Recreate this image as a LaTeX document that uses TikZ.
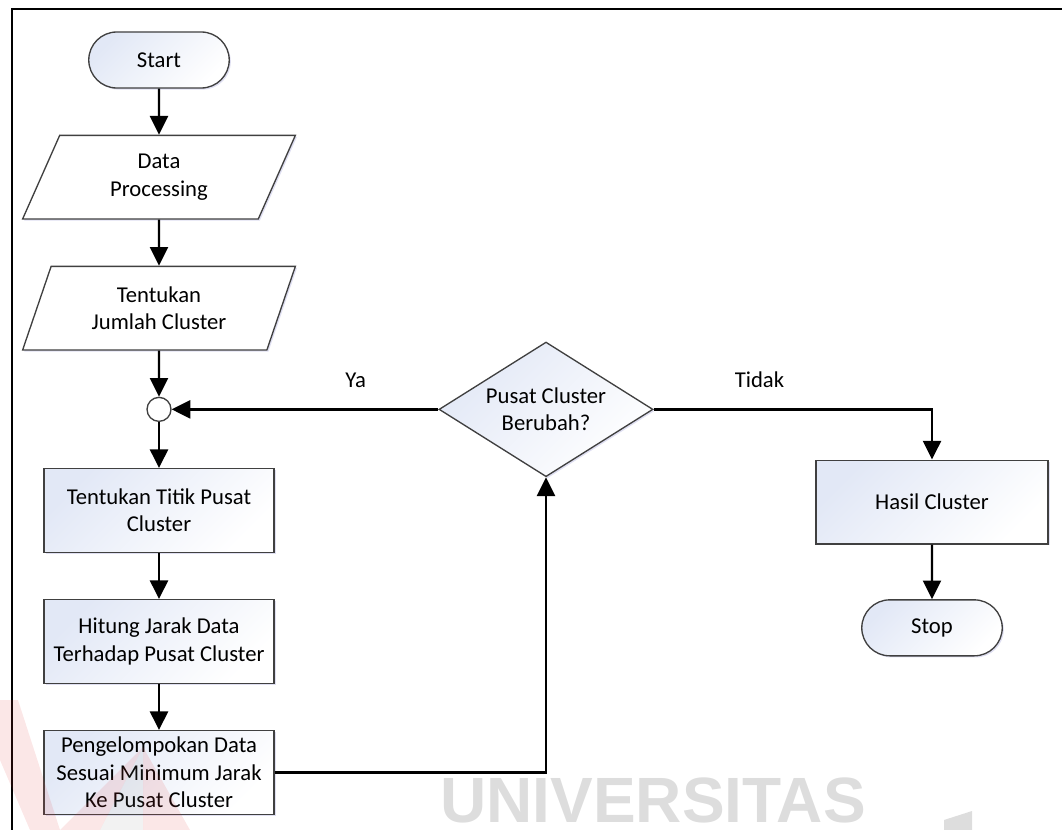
\documentclass[tikz,border=0pt]{standalone}
\usepackage{fontspec}
\setmainfont{Carlito}
\newfontfamily\wmfont{Liberation Sans}
\usetikzlibrary{arrows.meta, positioning, shapes.geometric, shapes.misc, shadows}
\definecolor{boxblue}{RGB}{226,232,246}
\definecolor{linegray}{RGB}{64,64,64}
\definecolor{wmgray}{RGB}{221,221,221}
\definecolor{wmred}{RGB}{226,60,60}
\tikzset{
  shadebox/.style={top color=boxblue, bottom color=white, shading angle=45,
    drop shadow={shadow xshift=1.2pt, shadow yshift=-1.2pt, opacity=0.18, fill=blue!40!gray}},
  term/.style={draw=linegray, line width=1pt, rounded rectangle, shadebox,
    minimum width=112pt, minimum height=42pt},
  io/.style={draw=linegray, line width=1pt, trapezium, trapezium left angle=70,
    trapezium right angle=110, trapezium stretches=true, fill=white, align=center,
    minimum width=204.75pt, minimum height=62.75pt,
    drop shadow={shadow xshift=1.2pt, shadow yshift=-1.2pt, opacity=0.18, fill=blue!40!gray}},
  proc/.style={draw=linegray, line width=1pt, rectangle, shadebox, align=center,
    minimum width=172.5pt, minimum height=62.75pt},
  decide/.style={draw=linegray, line width=1pt, diamond, aspect=1.58, shadebox, align=center,
    minimum width=160.5pt, minimum height=101pt, inner sep=0pt},
  junc/.style={draw=linegray, line width=1pt, circle, fill=white, minimum size=18pt, inner sep=0pt},
  arr/.style={-{Triangle[length=14pt, width=13.5pt]}, line width=1.8pt},
}

\begin{document}
\begin{tikzpicture}[x=0.75pt, y=-0.75pt, node distance=34.5pt,
    font=\fontsize{17}{20.5}\selectfont]
    \useasboundingbox (0,0) rectangle (1062,830);
    \draw[line width=1.5pt] (12,830) -- (12,9) -- (1062,9);

    % left column
    \node[term] (start) at (159,60) {Start};
    \node[io, below=of start] (dataproc) {Data\\Processing};
    \node[io, below=of dataproc] (jumlah) {Tentukan\\Jumlah Cluster};
    \node[junc, below=of jumlah] (join) {};
    \node[proc, below=of join] (titik) {Tentukan Titik Pusat\\Cluster};
    \node[proc, below=of titik] (jarak) {Hitung Jarak Data\\Terhadap Pusat Cluster};
    \node[proc, below=of jarak] (kelompok) {Pengelompokan Data\\Sesuai Minimum Jarak\\Ke Pusat Cluster};

    % decision and exit
    \node[decide, right=200pt of join] (ubah) {Pusat Cluster\\Berubah?};
    \node[proc, minimum width=174pt] (hasil) at (932,502) {Hasil Cluster};
    \node[term, below=41pt of hasil] (stop) {Stop};

    \draw[arr] (start) -- (dataproc);
    \draw[arr] (dataproc) -- (jumlah);
    \draw[arr] (jumlah) -- (join);
    \draw[arr] (join) -- (titik);
    \draw[arr] (titik) -- (jarak);
    \draw[arr] (jarak) -- (kelompok);
    \draw[arr] (kelompok.east) -| (ubah.south);
    \draw[arr] (ubah) -- node[pos=0.31, above=12pt] {Ya} (join);
    \draw[arr] (ubah.east) -| node[pos=0.19, above=12pt] {Tidak} (hasil);
    \draw[arr] (hasil) -- (stop);

    % watermark
    \node[font=\wmfont\bfseries\fontsize{48}{48}\selectfont, text=wmgray, anchor=base,
      inner sep=0pt] (wm) at (653,822) {UNIVERSITAS};
    \fill[wmgray] (944,820) -- (972,811) -- (972,830) -- (944,830) -- cycle;
    \fill[wmred, opacity=0.12] (0,700) -- (18,700) -- (60,830) -- (30,830) -- (0,760) -- cycle;
    \fill[wmred, opacity=0.12] (143,747) -- (60,830) -- (100,830) -- cycle;
    \fill[gray, opacity=0.1] (143,747) -- (100,830) -- (143,830) -- cycle;
    \fill[wmred, opacity=0.12] (143,747) -- (143,830) -- (190,830) -- cycle;
\end{tikzpicture}
\end{document}
